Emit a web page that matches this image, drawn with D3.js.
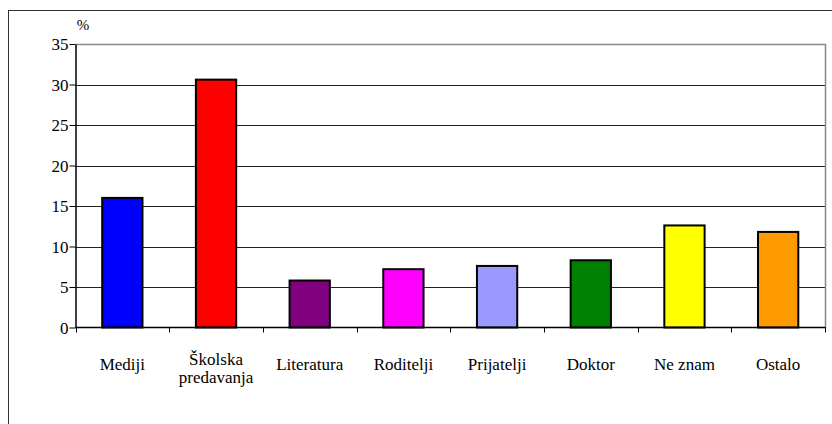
<!DOCTYPE html>
<html>
<head>
<meta charset="utf-8">
<script src="https://cdn.jsdelivr.net/npm/d3@7"></script>
</head>
<body style="margin:0">
<svg id="chart" width="832" height="424" font-family="Liberation Serif"></svg>
<script>
const categories = ["Mediji", "Školska\npredavanja", "Literatura", "Roditelji", "Prijatelji", "Doktor", "Ne znam", "Ostalo"];
const values = [16.0, 30.6, 5.8, 7.2, 7.6, 8.3, 12.6, 11.8];
const colors = ["#0000FF", "#FF0000", "#800080", "#FF00FF", "#9999FF", "#008000", "#FFFF00", "#FF9900"];
const yTicks = [0, 5, 10, 15, 20, 25, 30, 35];
const yUnit = "%";

const FONT = "Liberation Serif";
const svg = d3.select("#chart");
const left = 75.5, right = 825;

// outer frame (extends beyond image on right/bottom)
svg.append("rect")
  .attr("x", 8.5).attr("y", 10.5)
  .attr("width", 900).attr("height", 500)
  .attr("fill", "none").attr("stroke", "#333").attr("stroke-width", 1);

const x = d3.scaleBand()
  .domain(categories)
  .range([left, right])
  .paddingInner(0.57).paddingOuter(0.285);

const xb = d3.scaleBand().domain(categories).range([left, right]);

const y = d3.scaleLinear().domain([0, 35]).range([327.5, 44]);

// gridlines
svg.append("g")
  .selectAll("line")
  .data(yTicks.filter(t => t > 0 && t < 35))
  .join("line")
  .attr("x1", left).attr("x2", right)
  .attr("y1", d => Math.round(y(d)) + 0.5).attr("y2", d => Math.round(y(d)) + 0.5)
  .attr("stroke", "#222").attr("stroke-width", 1);

// plot area border top/right (gray)
svg.append("path")
  .attr("d", `M${left},${Math.round(y(35)) + 0.5}H${right + 0.5}V${Math.round(y(0))}`)
  .attr("fill", "none").attr("stroke", "#888").attr("stroke-width", 1.5);

// bars
svg.append("g")
  .selectAll("rect")
  .data(values)
  .join("rect")
  .attr("x", (d, i) => x(categories[i]))
  .attr("width", x.bandwidth())
  .attr("y", d => y(d))
  .attr("height", d => y(0) - y(d))
  .attr("fill", (d, i) => colors[i])
  .attr("stroke", "#000").attr("stroke-width", 2);

// y axis
const yAxis = d3.axisLeft(y).tickValues(yTicks).tickSize(6).tickPadding(1).tickSizeOuter(0);
const gy = svg.append("g").attr("transform", `translate(${left},0)`).call(yAxis)
  .attr("font-family", FONT).attr("font-size", 17);
gy.select(".domain").attr("stroke", "#000").attr("stroke-width", 1.5);
gy.selectAll(".tick line").attr("stroke", "#000");
gy.selectAll(".tick text")
  .attr("font-family", FONT)
  .attr("font-size", 17).attr("fill", "#000").attr("dy", "0.34em");

// x axis: ticks at band boundaries
const gx = svg.append("g").attr("transform", `translate(0,${y(0)})`);
gx.append("line")
  .attr("x1", left).attr("x2", right + 0.5)
  .attr("stroke", "#000").attr("stroke-width", 1.5);
const boundaries = categories.map(c => xb(c)).concat([xb(categories[categories.length - 1]) + xb.bandwidth()]);
gx.selectAll("line.tk")
  .data(boundaries)
  .join("line").attr("class", "tk")
  .attr("x1", d => Math.round(d) + 0.5).attr("x2", d => Math.round(d) + 0.5)
  .attr("y1", 0).attr("y2", 5)
  .attr("stroke", "#000");

// category labels
const labels = svg.append("g");
categories.forEach((c, i) => {
  const lines = c.split("\n");
  const cx = xb(c) + xb.bandwidth() / 2;
  const base = lines.length === 1 ? 369.5 : 365;
  lines.forEach((ln, j) => {
    labels.append("text")
      .attr("x", cx).attr("y", base + j * 18)
      .attr("text-anchor", "middle")
      .attr("font-family", FONT)
      .attr("fill", "#000")
      .attr("font-size", 17)
      .text(ln);
  });
});

// unit label
svg.append("text")
  .attr("x", 83).attr("y", 30)
  .attr("text-anchor", "middle")
  .attr("font-family", FONT)
  .attr("fill", "#000")
  .attr("font-size", 15)
  .text(yUnit);
</script>
</body>
</html>
